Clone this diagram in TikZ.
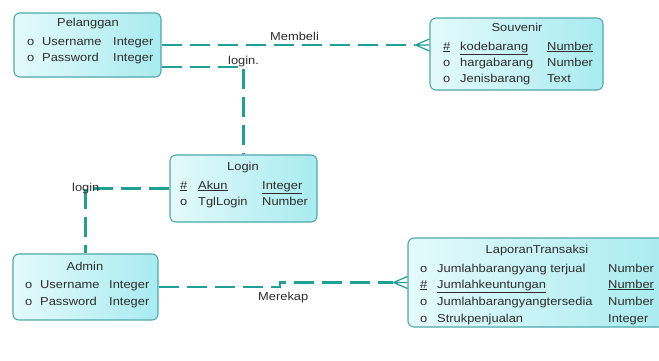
\documentclass[tikz,border=0pt]{standalone}
\usepackage{fontspec}
\setmainfont{Liberation Sans}[FakeStretch=1.12]
\definecolor{linkteal}{RGB}{32,160,148}
\definecolor{boxedge}{RGB}{78,168,170}
\definecolor{boxlight}{RGB}{228,250,251}
\definecolor{boxdeep}{RGB}{168,235,240}
\definecolor{inktext}{RGB}{45,45,45}

\tikzset{
  entity/.style={draw=boxedge, line width=1.1pt, rounded corners=6pt,
                 left color=boxlight, right color=boxdeep, inner sep=0pt},
  txt/.style={anchor=base west, inner sep=0pt, text=inktext,
              font=\fontsize{11.5}{13}\selectfont},
  ttl/.style={anchor=base, inner sep=0pt, text=inktext,
              font=\fontsize{11.5}{13}\selectfont},
  rel/.style={draw=linkteal, line width=2.4pt, dash pattern=on 20pt off 8pt},
  crowfoot/.style={draw=linkteal, line width=1.2pt},
}

\begin{document}
\begin{tikzpicture}[x=1pt, y=-1pt]
  \useasboundingbox (0,0) rectangle (659,360);
  \clip (0,0) rectangle (659,360);

  % entity boxes
  \node[entity, minimum width=147pt, minimum height=64pt] (pel) at (87.5,45) {};
  \node[entity, minimum width=173pt, minimum height=72pt] (sou) at (516.5,54) {};
  \node[entity, minimum width=147pt, minimum height=67pt] (log) at (243.5,188.5) {};
  \node[entity, minimum width=145pt, minimum height=66pt] (adm) at (85.5,287) {};
  \node[entity, minimum width=262pt, minimum height=89pt] (lap) at (539,282.5) {};

  % Pelanggan
  \node[ttl] (pel-t) at (88,26) {Pelanggan};
  \node[txt] (pel-1s) at (27,45) {o};
  \node[txt] (pel-1n) at (42,45) {Username};
  \node[txt] (pel-1d) at (113,45) {Integer};
  \node[txt] (pel-2s) at (27,61) {o};
  \node[txt] (pel-2n) at (42,61) {Password};
  \node[txt] (pel-2d) at (113,61) {Integer};

  % Souvenir
  \node[ttl] (sou-t) at (517,31) {Souvenir};
  \node[txt] (sou-1s) at (443,50) {\underline{\#}};
  \node[txt] (sou-1n) at (460,50) {\underline{kodebarang}};
  \node[txt] (sou-1d) at (547,50) {\underline{Number}};
  \node[txt] (sou-2s) at (443,66) {o};
  \node[txt] (sou-2n) at (460,66) {hargabarang};
  \node[txt] (sou-2d) at (547,66) {Number};
  \node[txt] (sou-3s) at (443,82) {o};
  \node[txt] (sou-3n) at (460,82) {Jenisbarang};
  \node[txt] (sou-3d) at (547,82) {Text};

  % Login
  \node[ttl] (log-t) at (243,170) {Login};
  \node[txt] (log-1s) at (180,189) {\underline{\#}};
  \node[txt] (log-1n) at (198,189) {\underline{Akun}};
  \node[txt] (log-1d) at (262,189) {\underline{Integer}};
  \node[txt] (log-2s) at (180,205) {o};
  \node[txt] (log-2n) at (198,205) {TglLogin};
  \node[txt] (log-2d) at (262,205) {Number};

  % Admin
  \node[ttl] (adm-t) at (85,270) {Admin};
  \node[txt] (adm-1s) at (25,288) {o};
  \node[txt] (adm-1n) at (40,288) {Username};
  \node[txt] (adm-1d) at (109,288) {Integer};
  \node[txt] (adm-2s) at (25,305) {o};
  \node[txt] (adm-2n) at (40,305) {Password};
  \node[txt] (adm-2d) at (109,305) {Integer};

  % LaporanTransaksi
  \node[ttl] (lap-t) at (537,253) {LaporanTransaksi};
  \node[txt] (lap-1s) at (420,272) {o};
  \node[txt] (lap-1n) at (437,272) {Jumlahbarangyang terjual};
  \node[txt] (lap-1d) at (608,272) {Number};
  \node[txt] (lap-2s) at (420,288) {\underline{\#}};
  \node[txt] (lap-2n) at (437,288) {\underline{Jumlahkeuntungan}};
  \node[txt] (lap-2d) at (608,288) {\underline{Number}};
  \node[txt] (lap-3s) at (420,305) {o};
  \node[txt] (lap-3n) at (437,305) {Jumlahbarangyangtersedia};
  \node[txt] (lap-3d) at (608,305) {Number};
  \node[txt] (lap-4s) at (420,322) {o};
  \node[txt] (lap-4n) at (437,322) {Strukpenjualan};
  \node[txt] (lap-4d) at (608,322) {Integer};

  % relationships
  \coordinate (sou-in) at ([xshift=-14pt]pel.east -| sou.west);
  \draw[rel] (pel.east) -- (sou-in);
  \draw[crowfoot] (sou-in) -- ([yshift=-6pt]pel.east -| sou.west)
                  (sou-in) -- (pel.east -| sou.west)
                  (sou-in) -- ([yshift=6pt]pel.east -| sou.west);
  \node[txt] (lbl-membeli) at (270,40) {Membeli};

  \draw[rel] ([yshift=-22pt]pel.east) -| (log.north);
  \node[txt] (lbl-login1) at (228,64) {login.};

  \draw[rel] (log.west) -| (adm.north);
  \node[txt] (lbl-login2) at (72,191) {login};

  \coordinate (jog) at (280,0);
  \coordinate (lap-in) at ([xshift=-14pt]lap.west);
  \draw[rel] (adm.east) -- (adm.east -| jog) -- (jog |- lap.west) -- (lap-in);
  \draw[crowfoot] (lap-in) -- ([yshift=-6pt]lap.west)
                  (lap-in) -- (lap.west)
                  (lap-in) -- ([yshift=6pt]lap.west);
  \node[txt] (lbl-merekap) at (258,300) {Merekap};
\end{tikzpicture}
\end{document}
